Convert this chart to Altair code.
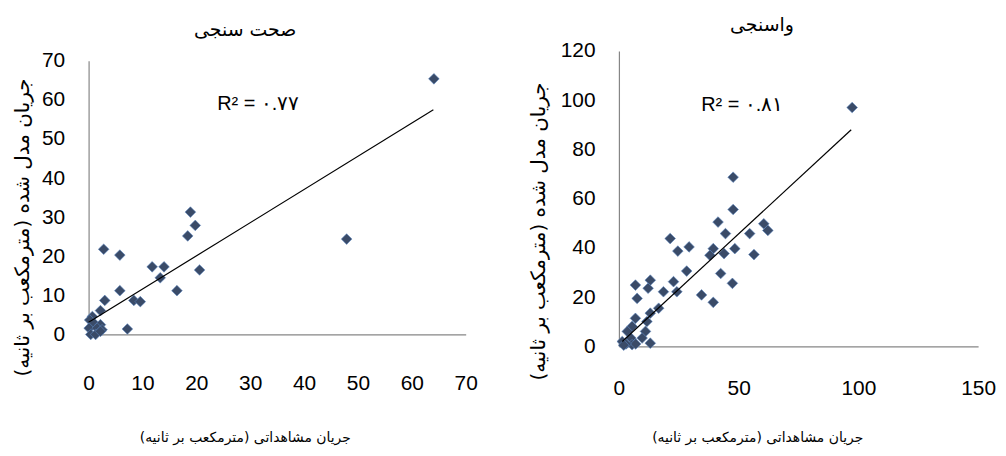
import altair as alt
import pandas as pd

# ---------------- data ----------------
# Left panel: validation (صحت سنجی)
val_obs = [64.1, 47.9, 18.9, 19.8, 18.4, 2.8, 5.8, 11.8, 14.0, 20.6, 13.3, 5.8, 16.4,
           3.0, 8.4, 9.6, 2.2, 0.7, 7.2, 0.2, 1.0, 2.2, 0.1, 1.6, 2.5, 0.4, 1.3, 2.2]
val_sim = [65.4, 24.4, 31.3, 27.9, 25.2, 21.8, 20.3, 17.3, 17.3, 16.5, 14.5, 11.2, 11.2,
           8.7, 8.7, 8.4, 6.1, 4.6, 1.4, 3.7, 2.9, 2.5, 1.6, 1.6, 1.2, 0.0, 0.0, 0.8]
val_trend_x = [0.0, 64.0]
val_trend_y = [3.1, 57.5]
val_r2 = "R² = ۰.۷۷"
val_r2_pos = [31.5, 59.0]
val_xticks = [0, 10, 20, 30, 40, 50, 60, 70]
val_yticks = [0, 10, 20, 30, 40, 50, 60, 70]

# Right panel: calibration (واسنجی)
cal_obs = [97.4, 47.7, 47.7, 41.4, 60.5, 62.2, 54.6, 44.5, 21.4, 29.3, 39.4, 48.4, 24.6,
           43.9, 38.0, 56.4, 28.3, 42.5, 22.8, 13.1, 47.4, 6.9, 12.2, 18.6, 24.2, 34.5,
           7.6, 39.4, 16.6, 13.1, 6.9, 11.7, 5.5, 3.5, 11.1, 9.7, 5.0, 1.4, 13.1, 5.5,
           7.0, 3.0, 2.0]
cal_sim = [97.0, 68.7, 55.6, 50.5, 49.8, 47.1, 45.8, 45.8, 43.8, 40.4, 39.7, 39.7, 38.7,
           37.7, 37.0, 37.3, 30.6, 29.6, 26.3, 26.9, 25.6, 24.9, 23.6, 22.2, 22.2, 20.9,
           19.5, 17.9, 15.5, 13.5, 11.4, 10.1, 8.1, 6.1, 6.1, 3.4, 3.4, 2.0, 1.3, 0.7,
           1.0, 1.0, 0.5]
cal_trend_x = [1.4, 97.0]
cal_trend_y = [2.0, 88.0]
cal_r2 = "R² = ۰.۸۱"
cal_r2_pos = [51.5, 98.0]
cal_xticks = [0, 50, 100, 150]
cal_yticks = [0, 20, 40, 60, 80, 100, 120]

x_title = "جریان مشاهداتی (مترمکعب بر ثانیه)"
y_title = "جریان مدل شده (مترمکعب بر ثانیه)"
titles = ["صحت سنجی", "واسنجی"]

NUM_FONT = "Liberation Sans"
AR_FONT = "DejaVu Sans"
AXIS_GRAY = "#868686"


def panel(obs, sim, tx, ty, r2, r2pos, xticks, yticks, title, w, h, ytop,
          xlabpad, xtitle_x, xtitle_y, ytitle_x, ytitle_y, title_offset):
    pts = pd.DataFrame({"obs": obs, "sim": sim})
    trend = pd.DataFrame({"obs": tx, "sim": ty})
    lab = pd.DataFrame({"obs": [r2pos[0]], "sim": [r2pos[1]], "t": [r2]})
    xs = alt.Scale(domain=[xticks[0], xticks[-1]], nice=False)
    ys = alt.Scale(domain=[yticks[0], yticks[-1]], nice=False, range=[h, ytop])
    xax = alt.Axis(values=xticks, grid=False, ticks=False, domainColor=AXIS_GRAY,
                   domainWidth=1.2, labelFont=NUM_FONT, labelFontSize=21,
                   labelColor="#000000", labelPadding=xlabpad, labelFlush=False,
                   labelOverlap=False,
                   title=x_title, titleFont=AR_FONT, titleFontSize=14,
                   titleFontWeight="normal", titleColor="#000000",
                   titleX=xtitle_x, titleY=xtitle_y, titleBaseline="middle",
                   titleAlign="center")
    yax = alt.Axis(values=yticks, grid=False, ticks=False, domainColor=AXIS_GRAY,
                   domainWidth=1.2, labelFont=NUM_FONT, labelFontSize=21,
                   labelColor="#000000", labelPadding=24, labelFlush=False,
                   labelOverlap=False,
                   title=y_title, titleFont=AR_FONT, titleFontSize=20,
                   titleFontWeight="normal", titleColor="#000000",
                   titleX=ytitle_x, titleY=ytitle_y, titleBaseline="middle",
                   titleAlign="center", titleAngle=270)
    X = alt.X("obs:Q", scale=xs, axis=xax)
    Y = alt.Y("sim:Q", scale=ys, axis=yax)
    points = alt.Chart(pts).mark_point(
        shape="diamond", filled=True, size=115, fill="#3A4B68", opacity=1,
        stroke="#5B85BF", strokeWidth=0.6
    ).encode(x=X, y=Y)
    line = alt.Chart(trend).mark_line(color="#000000", strokeWidth=1.2).encode(x=X, y=Y)
    text = alt.Chart(lab).mark_text(font=NUM_FONT, fontSize=20, color="#000000",
                                    align="center", baseline="middle").encode(
        x=X, y=Y, text="t:N")
    return alt.layer(points, line, text).properties(
        width=w, height=h,
        title=alt.TitleParams(title, font=AR_FONT, fontSize=19, fontWeight="normal",
                              color="#000000", anchor="middle", frame="bounds",
                              offset=title_offset))


left = panel(val_obs, val_sim, val_trend_x, val_trend_y, val_r2, val_r2_pos,
             val_xticks, val_yticks, titles[0], 379, 285, 10,
             xlabpad=38, xtitle_x=157, xtitle_y=104, ytitle_x=-66, ytitle_y=177,
             title_offset=10)
right = panel(cal_obs, cal_sim, cal_trend_x, cal_trend_y, cal_r2, cal_r2_pos,
              cal_xticks, cal_yticks, titles[1], 361, 297, 0,
              xlabpad=31, xtitle_x=139, xtitle_y=92, ytitle_x=-81, ytitle_y=181,
              title_offset=5)

chart = alt.hconcat(left, right, spacing=51).properties(
    padding={"left": 4, "top": 7, "right": 2, "bottom": 2}
).configure_view(stroke=None).configure_axis(labelOverlap=False)

chart.save("out.html", embed_options={"renderer": "svg", "actions": False})
